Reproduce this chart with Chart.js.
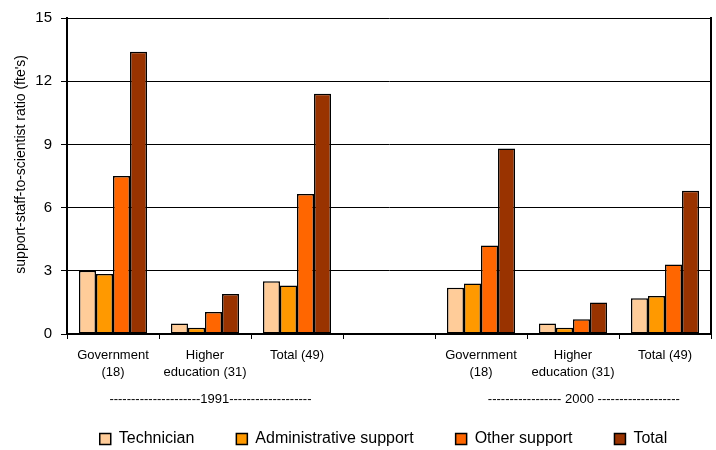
<!DOCTYPE html>
<html>
<head>
<meta charset="utf-8">
<title>Support staff per scientist</title>
<script src="https://cdn.jsdelivr.net/npm/chart.js"></script>
<style>
    html, body { margin: 0; padding: 0; background: #fff; }
    #wrap { width: 716px; height: 450px; }
</style>
</head>
<body>
<div id="wrap"><canvas id="ratioChart"></canvas></div>
<script>
// sector groups, 1991 block, empty spacer, 2000 block
var groups = [['Government', '(18)'], ['Higher', 'education (31)'], 'Total (49)', '',
              ['Government', '(18)'], ['Higher', 'education (31)'], 'Total (49)'];
var years = ['', '   ---------------------1991-------------------', '', '', '',
             '      ----------------- 2000 -------------------', ''];

var technician   = [3.0, 0.5, 2.5, null, 2.2, 0.5, 1.7];
var adminSupport = [2.85, 0.3, 2.3, null, 2.4, 0.3, 1.8];
var otherSupport = [7.5, 1.05, 6.65, null, 4.2, 0.7, 3.3];
var totalSupport = [13.4, 1.9, 11.4, null, 8.8, 1.5, 6.8];

var yTicks = [0, 3, 6, 9, 12, 15];

Chart.defaults.font.family = "'Liberation Sans', Arial, sans-serif";
Chart.defaults.color = '#000';

function bars(label, data, color) {
    return {
        label: label,
        data: data,
        backgroundColor: color,
        borderColor: '#000',
        borderWidth: 1.5,
        borderSkipped: false,
        categoryPercentage: 0.74,
        barPercentage: 1.0
    };
}

// nudge the legend row right and down after layout
var legendPlace = {
    id: 'legendPlace',
    afterLayout: function (chart) {
        var lg = chart.legend;
        lg.left += 28;
        lg.right += 28;
        lg.top = 389;
        lg.bottom = 450;
    }
};

new Chart(document.getElementById('ratioChart'), {
    type: 'bar',
    data: {
        labels: groups,
        datasets: [
            bars('Technician', technician, '#FFCC99'),
            bars('Administrative support', adminSupport, '#FF9900'),
            bars('Other support', otherSupport, '#FF6600'),
            bars('Total', totalSupport, '#993300')
        ]
    },
    options: {
        responsive: true,
        maintainAspectRatio: false,
        animation: false,
        layout: { padding: { top: 17, right: 5, left: 0, bottom: 0 } },
        plugins: {
            tooltip: { enabled: false },
            legend: {
                position: 'bottom',
                maxHeight: 40,
                labels: {
                    boxWidth: 11,
                    boxHeight: 11,
                    padding: 42,
                    font: { size: 16 }
                }
            }
        },
        scales: {
            x: {
                offset: true,
                grid: { drawOnChartArea: false, drawTicks: true, tickLength: 5, color: '#000' },
                border: { color: '#000', width: 2 },
                ticks: { autoSkip: false, maxRotation: 0, padding: 8, font: { size: 13, lineHeight: 1.3 } },
                afterFit: function (scale) { scale.height = 47; }
            },
            x2: {
                type: 'category',
                labels: years,
                position: 'bottom',
                offset: true,
                grid: { display: false },
                border: { display: false },
                ticks: { autoSkip: false, maxRotation: 0, padding: 2, font: { size: 13, lineHeight: 1.3 } },
                afterFit: function (scale) { scale.height = 29; }
            },
            y: {
                min: yTicks[0],
                max: yTicks[yTicks.length - 1],
                ticks: { stepSize: yTicks[1] - yTicks[0], padding: 9, font: { size: 15 } },
                grid: { color: '#000', lineWidth: 1, tickLength: 6 },
                border: { color: '#000', width: 2 },
                title: {
                    display: true,
                    text: '      support-staff-to-scientist ratio (fte\'s)',
                    font: { size: 14 },
                    padding: { top: 13, bottom: 0 }
                },
                afterFit: function (scale) { scale.width = 67; }
            },
            y2: {
                position: 'right',
                min: yTicks[0],
                max: yTicks[yTicks.length - 1],
                ticks: { display: false },
                grid: { drawOnChartArea: false, drawTicks: false },
                border: { color: '#000', width: 2 },
                afterFit: function (scale) { scale.width = 0; }
            }
        }
    },
    plugins: [legendPlace]
});
</script>
</body>
</html>
